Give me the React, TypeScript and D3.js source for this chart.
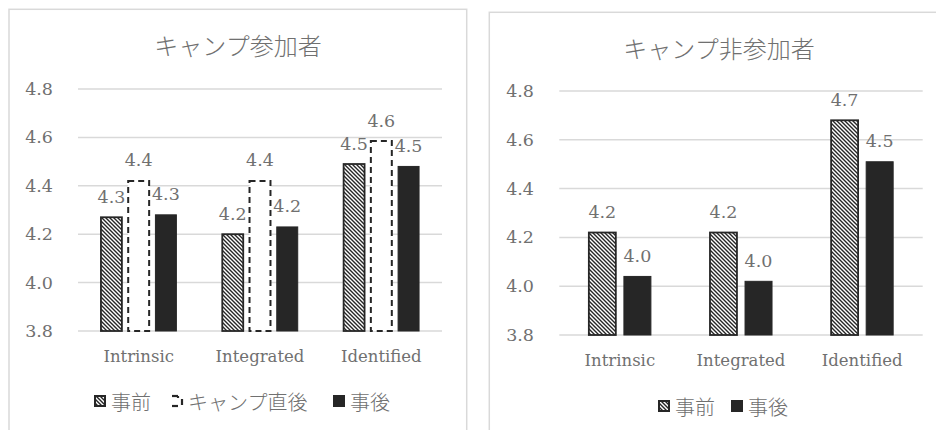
import React from "react";
import * as d3 from "d3";

const categories = ["Intrinsic", "Integrated", "Identified"];
const yTicks = [3.8, 4.0, 4.2, 4.4, 4.6, 4.8];

const participantTitle = "キャンプ参加者";
const participantSeriesNames = ["事前", "キャンプ直後", "事後"];
const participantPre = [4.27, 4.2, 4.49];
const participantRightAfter = [4.42, 4.42, 4.585];
const participantPost = [4.28, 4.23, 4.48];

const nonTitle = "キャンプ非参加者";
const nonSeriesNames = ["事前", "事後"];
const nonPre = [4.22, 4.22, 4.68];
const nonPost = [4.04, 4.02, 4.51];

const TEXT = "#707070";
const DARK = "#262626";
const GRID = "#d9d9d9";
const SERIF = "'DejaVu Serif', serif";
const JP = "'Noto Sans CJK JP', sans-serif";
const fmt = d3.format(".1f");

type Style = "hatch" | "dash" | "solid";

interface PanelProps {
  frame: [number, number, number, number];
  title: string;
  titleX: number;
  titleY: number;
  x0: number;
  x1: number;
  yTop: number;
  yBottom: number;
  tickRight: number;
  catY: number;
  series: { name: string; values: number[]; style: Style }[];
  legendY: number;
  legendX: number[];
}

function barProps(style: Style) {
  if (style === "hatch") return { fill: "url(#hatch)", stroke: DARK, strokeWidth: 1.8 };
  if (style === "dash") return { fill: "#fff", stroke: DARK, strokeWidth: 2, strokeDasharray: "6,4" };
  return { fill: DARK, stroke: DARK, strokeWidth: 1 };
}

function Panel(p: PanelProps) {
  const x = d3.scaleBand<string>().domain(categories).range([p.x0, p.x1]).padding(0);
  const y = d3.scaleLinear().domain([3.8, 4.8]).range([p.yBottom, p.yTop]);
  const n = p.series.length;
  const bw = x.bandwidth() / (n + (n - 1) * 0.3 + 2.19);
  const step = bw * 1.3;
  const [fx, fy, fw, fh] = p.frame;
  return (
    <g>
      <rect x={fx} y={fy} width={fw} height={fh} fill="#fff" stroke={GRID} strokeWidth={1.5} />
      <text x={p.titleX} y={p.titleY} textAnchor="middle" dominantBaseline="central"
        fontFamily={JP} fontSize={24} fill={TEXT} fontWeight={300}>{p.title}</text>
      {yTicks.map((t) => (
        <g key={t}>
          <line x1={p.x0} x2={p.x1} y1={y(t)} y2={y(t)} stroke={GRID} strokeWidth={1.5} />
          <text x={p.tickRight} y={y(t)} textAnchor="end" dominantBaseline="central"
            fontFamily={SERIF} fontSize={17.5} fill={TEXT}>{fmt(t)}</text>
        </g>
      ))}
      {categories.map((c, ci) => {
        const cx = (x(c) as number) + x.bandwidth() / 2;
        return (
          <g key={c}>
            {p.series.map((s, si) => {
              const bx = cx + (si - (n - 1) / 2) * step;
              const v = s.values[ci];
              return (
                <g key={s.name}>
                  <rect x={bx - bw / 2} y={y(v)} width={bw} height={y(3.8) - y(v)} {...barProps(s.style)} />
                  <text x={bx} y={y(v) - 14.5} textAnchor="middle" fontFamily={SERIF}
                    fontSize={17.5} fill={TEXT}>{fmt(v)}</text>
                </g>
              );
            })}
            <text x={cx} y={p.catY} textAnchor="middle" fontFamily={SERIF} fontSize={16.5}
              fill={TEXT}>{c}</text>
          </g>
        );
      })}
      {p.series.map((s, si) => {
        const lx = p.legendX[si];
        const ly = p.legendY;
        return (
          <g key={"lg" + s.name}>
            {s.style === "hatch" && (
              <rect x={lx + 1} y={ly - 5} width={10} height={10} fill="url(#hatchL)" stroke={DARK} strokeWidth={2} />
            )}
            {s.style === "dash" && (
              <g stroke={DARK} strokeWidth={2.2} fill="none">
                <path d={`M${lx + 1},${ly - 5} H${lx + 7}`} />
                <path d={`M${lx + 1},${ly + 5} H${lx + 7}`} />
                <path d={`M${lx + 7},${ly - 5} V${ly - 3}`} />
                <path d={`M${lx + 11},${ly - 2} V${ly + 4}`} />
              </g>
            )}
            {s.style === "solid" && <rect x={lx} y={ly - 6} width={12} height={12} fill={DARK} />}
            <text x={lx + 17} y={ly} dominantBaseline="central" fontFamily={JP} fontSize={20}
              fill={TEXT} fontWeight={300}>{s.name}</text>
          </g>
        );
      })}
    </g>
  );
}

export default function App() {
  return (
    <svg width={936} height={430} style={{ position: "absolute", left: 0, top: 0, background: "#fff" }}>
      <defs>
        <pattern id="hatch" patternUnits="userSpaceOnUse" width={4} height={4}>
          <rect width={4} height={4} fill="#fff" />
          <path d="M0,0 L4,4 M-1,3 L1,5 M3,-1 L5,1" stroke={DARK} strokeWidth={1.4} />
        </pattern>
        <pattern id="hatchL" patternUnits="userSpaceOnUse" width={4} height={4}>
          <rect width={4} height={4} fill="#fff" />
          <path d="M0,0 L4,4 M-1,3 L1,5 M3,-1 L5,1" stroke={DARK} strokeWidth={1.4} />
        </pattern>
      </defs>
      <rect width={936} height={430} fill="#fff" />
      <Panel
        frame={[9, 9.3, 457.7, 440]}
        title={participantTitle}
        titleX={238}
        titleY={44}
        x0={78}
        x1={442}
        yTop={89}
        yBottom={331}
        tickRight={53}
        catY={362}
        series={[
          { name: participantSeriesNames[0], values: participantPre, style: "hatch" },
          { name: participantSeriesNames[1], values: participantRightAfter, style: "dash" },
          { name: participantSeriesNames[2], values: participantPost, style: "solid" },
        ]}
        legendY={401}
        legendX={[94, 171, 333]}
      />
      <Panel
        frame={[489.3, 12.3, 460, 440]}
        title={nonTitle}
        titleX={719}
        titleY={47}
        x0={559.3}
        x1={922.7}
        yTop={91}
        yBottom={335}
        tickRight={534}
        catY={366}
        series={[
          { name: nonSeriesNames[0], values: nonPre, style: "hatch" },
          { name: nonSeriesNames[1], values: nonPost, style: "solid" },
        ]}
        legendY={406}
        legendX={[658, 731]}
      />
    </svg>
  );
}
